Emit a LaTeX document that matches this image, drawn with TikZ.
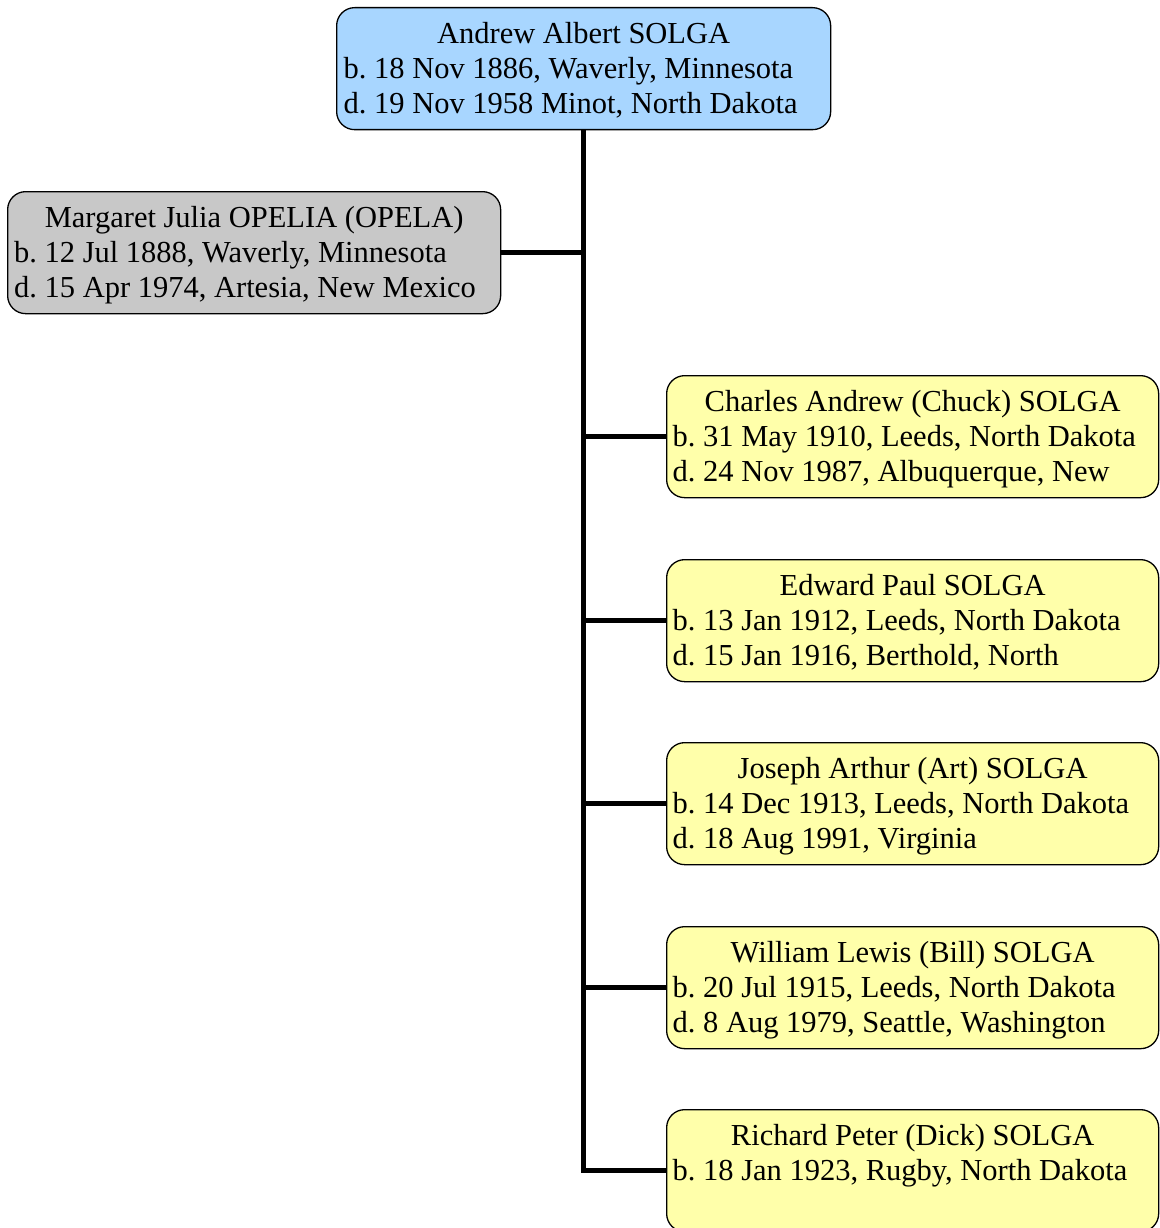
\documentclass[tikz,border=0pt]{standalone}
\usepackage{fontspec}
\setmainfont{Liberation Serif}
\usetikzlibrary{positioning,calc}

\definecolor{rootblue}{RGB}{168,214,255}
\definecolor{spousegray}{RGB}{200,200,200}
\definecolor{childyellow}{RGB}{255,255,170}

% text of one box: first line centred, the others flush left
\newcommand{\boxlines}[2]{\parbox[t][122pt][t]{480pt}{\fontsize{30.5}{35}\selectfont\frenchspacing\vspace*{11.5pt}\centering\strut #1\par\raggedright #2}}

\begin{document}
\begin{tikzpicture}[x=1pt, y=-1pt,
    block/.style={draw, line width=1.3pt, rounded corners=18pt, anchor=north west, inner xsep=6pt, inner ysep=0pt, minimum width=492pt, minimum height=122pt},
    link/.style={line width=4.5pt, line join=miter}]

        \useasboundingbox (0,0) rectangle (1159,1228);

        % Andrew
        \node [block, fill=rootblue, minimum width=494pt] (andrew) at (336,7)
            {\boxlines{Andrew Albert SOLGA}{b. 18 Nov 1886, Waverly, Minnesota\\d. 19 Nov 1958 Minot, North Dakota}};

        % Margaret
        \node [block, fill=spousegray, minimum width=493pt] (margaret) at (7,191)
            {\boxlines{Margaret Julia OPELIA (OPELA)}{b. 12 Jul 1888, Waverly, Minnesota\\d. 15 Apr 1974, Artesia, New Mexico}};

        % Children
        \node [block, fill=childyellow] (charles) at (666,375)
            {\boxlines{Charles Andrew (Chuck) SOLGA}{b. 31 May 1910, Leeds, North Dakota\\d. 24 Nov 1987, Albuquerque, New}};

        \node [block, fill=childyellow] (edward) at (666,559)
            {\boxlines{Edward Paul SOLGA}{b. 13 Jan 1912, Leeds, North Dakota\\d. 15 Jan 1916, Berthold, North}};

        \node [block, fill=childyellow] (joseph) at (666,742)
            {\boxlines{Joseph Arthur (Art) SOLGA}{b. 14 Dec 1913, Leeds, North Dakota\\d. 18 Aug 1991, Virginia}};

        \node [block, fill=childyellow] (william) at (666,926)
            {\boxlines{William Lewis (Bill) SOLGA}{b. 20 Jul 1915, Leeds, North Dakota\\d. 8 Aug 1979, Seattle, Washington}};

        \node [block, fill=childyellow] (richard) at (666,1109)
            {\boxlines{Richard Peter (Dick) SOLGA}{b. 18 Jan 1923, Rugby, North Dakota}};

        % Lines
        \draw [link] (andrew.south) |- (richard.west);
        \draw [link] (margaret.east) -- (margaret.east -| andrew.south);
        \draw [link] (charles.west) -- (charles.west -| andrew.south);
        \draw [link] (edward.west) -- (edward.west -| andrew.south);
        \draw [link] (joseph.west) -- (joseph.west -| andrew.south);
        \draw [link] (william.west) -- (william.west -| andrew.south);

    \end{tikzpicture}
\end{document}
